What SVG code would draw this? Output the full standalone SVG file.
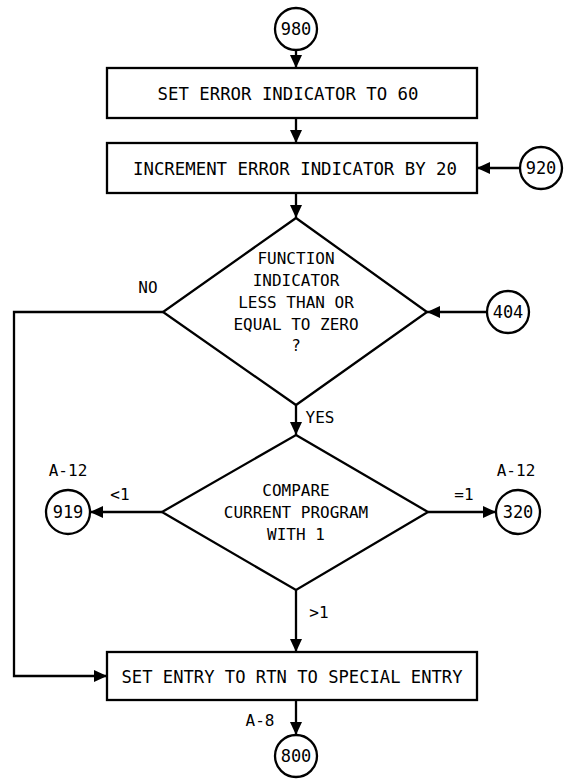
<svg xmlns="http://www.w3.org/2000/svg" width="585" height="782" viewBox="0 0 585 782">
<style>
.s{fill:#fff;stroke:#000;stroke-width:2.3}
.c{fill:none;stroke:#000;stroke-width:2.3}
text{font-family:"DejaVu Sans Mono","Liberation Mono",monospace;font-size:16px;fill:#000;text-anchor:middle;dominant-baseline:central}
.b{font-size:18px}
.n{font-size:17px}
</style>
<defs>
<marker id="a" viewBox="0 0 13 12" refX="13" refY="6" markerWidth="13" markerHeight="12" markerUnits="userSpaceOnUse" orient="auto">
<path d="M0,0 L13,6 L0,12 Z" fill="#000"/>
</marker>
</defs>
<g id="connectors">
<line class="c" x1="296" y1="50" x2="296" y2="68" marker-end="url(#a)"/>
<line class="c" x1="296" y1="118" x2="296" y2="143" marker-end="url(#a)"/>
<line class="c" x1="520" y1="168" x2="477" y2="168" marker-end="url(#a)"/>
<line class="c" x1="296" y1="193" x2="296" y2="218" marker-end="url(#a)"/>
<line class="c" x1="487" y1="312" x2="427" y2="312" marker-end="url(#a)"/>
<polyline class="c" points="163,312 14,312 14,676 107,676" marker-end="url(#a)"/>
<line class="c" x1="296" y1="405" x2="296" y2="435" marker-end="url(#a)"/>
<line class="c" x1="162" y1="512" x2="90" y2="512" marker-end="url(#a)"/>
<line class="c" x1="428" y1="512" x2="496" y2="512" marker-end="url(#a)"/>
<line class="c" x1="296" y1="590" x2="296" y2="652" marker-end="url(#a)"/>
<line class="c" x1="296" y1="700" x2="296" y2="735" marker-end="url(#a)"/>
<text x="148" y="287">NO</text>
<text x="320" y="417">YES</text>
<text x="120" y="494">&lt;1</text>
<text x="464" y="494">=1</text>
<text x="319" y="612">&gt;1</text>
<text x="260" y="720">A-8</text>
</g>
<g id="n980"><circle class="s" cx="296" cy="29" r="21"/><text class="n" x="296" y="29">980</text></g>
<g id="set-error"><rect class="s" x="107" y="68" width="370" height="50"/><text class="b" x="288" y="93" textLength="261" lengthAdjust="spacingAndGlyphs">SET ERROR INDICATOR TO 60</text></g>
<g id="increment"><rect class="s" x="107" y="143" width="370" height="50"/><text class="b" x="295" y="168" textLength="324" lengthAdjust="spacingAndGlyphs">INCREMENT ERROR INDICATOR BY 20</text></g>
<g id="n920"><circle class="s" cx="541" cy="168" r="21"/><text class="n" x="541" y="168">920</text></g>
<g id="function-decision"><polygon class="s" points="296,218 427,312 296,405 163,312"/>
<text x="296" y="258">FUNCTION</text><text x="296" y="280">INDICATOR</text><text x="296" y="302">LESS THAN OR</text><text x="296" y="324">EQUAL TO ZERO</text><text x="296" y="345">?</text></g>
<g id="n404"><circle class="s" cx="508" cy="312" r="21"/><text class="n" x="508" y="312">404</text></g>
<g id="compare"><polygon class="s" points="296,435 428,512 296,590 162,512"/>
<text x="296" y="490">COMPARE</text><text x="296" y="512">CURRENT PROGRAM</text><text x="296" y="534">WITH 1</text></g>
<g id="n919"><circle class="s" cx="68" cy="512" r="22"/><text class="n" x="68" y="512">919</text><text x="68" y="470">A-12</text></g>
<g id="n320"><circle class="s" cx="518" cy="512" r="22"/><text class="n" x="518" y="512">320</text><text x="516" y="470">A-12</text></g>
<g id="set-entry"><rect class="s" x="107" y="652" width="370" height="48"/><text class="b" x="292" y="676" textLength="341" lengthAdjust="spacingAndGlyphs">SET ENTRY TO RTN TO SPECIAL ENTRY</text></g>
<g id="n800"><circle class="s" cx="296" cy="756" r="21"/><text class="n" x="296" y="756">800</text></g>
</svg>
